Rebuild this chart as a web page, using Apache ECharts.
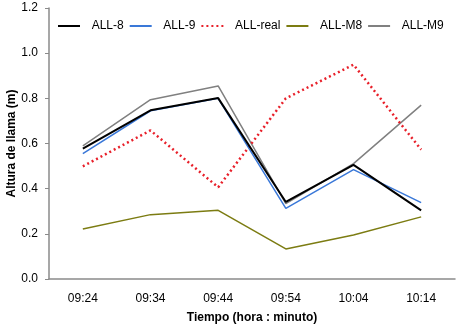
<!DOCTYPE html>
<html>
<head>
<meta charset="utf-8">
<script src="https://cdn.jsdelivr.net/npm/echarts@6/dist/echarts.min.js"></script>
<style>
html, body { margin: 0; padding: 0; background: #fff; }
#chart { width: 461px; height: 327px; }
</style>
</head>
<body>
<div id="chart"></div>
<script>
var categories = ['09:24', '09:34', '09:44', '09:54', '10:04', '10:14'];
var all8 = [0.577, 0.747, 0.801, 0.341, 0.505, 0.304];
var all9 = [0.555, 0.745, 0.800, 0.313, 0.484, 0.338];
var allReal = [0.499, 0.658, 0.406, 0.800, 0.949, 0.573];
var allM8 = [0.221, 0.285, 0.304, 0.133, 0.195, 0.275];
var allM9 = [0.590, 0.794, 0.855, 0.334, 0.511, 0.770];
var yTicks = [0.0, 0.2, 0.4, 0.6, 0.8, 1.0, 1.2];

var font = '"Liberation Sans", Arial, sans-serif';
var axisGray = '#8a8a8a';

function line(name, data, color, width, type) {
    return {
        name: name,
        type: 'line',
        data: data,
        symbol: 'none',
        lineStyle: { color: color, width: width, type: type || 'solid' },
        itemStyle: { color: color }
    };
}

var myChart = echarts.init(document.getElementById('chart'));
var option = {
    animation: false,
    backgroundColor: '#fff',
    textStyle: { fontFamily: font },
    grid: { left: 49, right: 6, top: 8, bottom: 48, containLabel: false, outerBoundsMode: 'none' },
    legend: {
        top: 15,
        left: 53,
        width: 420,
        itemWidth: 22,
        itemHeight: 12,
        itemGap: 6,
        icon: 'path://M0,5L22,5L22,7L0,7Z',
        formatter: function (n) { return '  ' + n; },
        textStyle: { fontSize: 12, color: '#000', fontFamily: font },
        data: [
            { name: 'ALL-8', itemStyle: { color: '#000' } },
            { name: 'ALL-9', itemStyle: { color: '#3a78d8' } },
            { name: 'ALL-real', icon: 'path://M0,5L2,5L2,7L0,7ZM5,5L7,5L7,7L5,7ZM10,5L12,5L12,7L10,7ZM15,5L17,5L17,7L15,7ZM20,5L22,5L22,7L20,7Z', itemStyle: { color: '#e8202a' } },
            { name: 'ALL-M8', itemStyle: { color: '#7c7c12' } },
            { name: 'ALL-M9', itemStyle: { color: '#808080' } }
        ]
    },
    xAxis: {
        type: 'category',
        data: categories,
        boundaryGap: true,
        name: 'Tiempo (hora : minuto)',
        nameLocation: 'middle',
        nameGap: 33,
        nameMoveOverlap: false,
        nameTextStyle: { fontSize: 12, fontWeight: 'bold', color: '#000', fontFamily: font },
        axisLine: { lineStyle: { color: axisGray, width: 1.5 } },
        axisTick: { alignWithLabel: true, length: 3, lineStyle: { color: '#bbb' } },
        axisLabel: { fontSize: 12, color: '#000', margin: 14, fontFamily: font },
        splitLine: { show: false }
    },
    yAxis: {
        type: 'value',
        min: yTicks[0],
        max: yTicks[yTicks.length - 1],
        interval: 0.2,
        name: 'Altura de llama (m)',
        nameLocation: 'middle',
        nameGap: 31,
        nameMoveOverlap: false,
        nameTextStyle: { fontSize: 12, fontWeight: 'bold', color: '#000', fontFamily: font },
        axisLine: { show: true, lineStyle: { color: axisGray, width: 1.5 } },
        axisTick: { show: true, length: 4, lineStyle: { color: axisGray } },
        axisLabel: {
            fontSize: 12, color: '#000', margin: 11, fontFamily: font,
            formatter: function (v) { return v.toFixed(1); }
        },
        splitLine: { show: false }
    },
    series: [
        line('ALL-M9', allM9, '#808080', 1.5),
        line('ALL-M8', allM8, '#7c7c12', 1.5),
        line('ALL-real', allReal, '#e8202a', 2.5, [2, 3]),
        line('ALL-9', all9, '#3a78d8', 1.5),
        line('ALL-8', all8, '#000', 2)
    ]
};
myChart.setOption(option);
</script>
</body>
</html>
